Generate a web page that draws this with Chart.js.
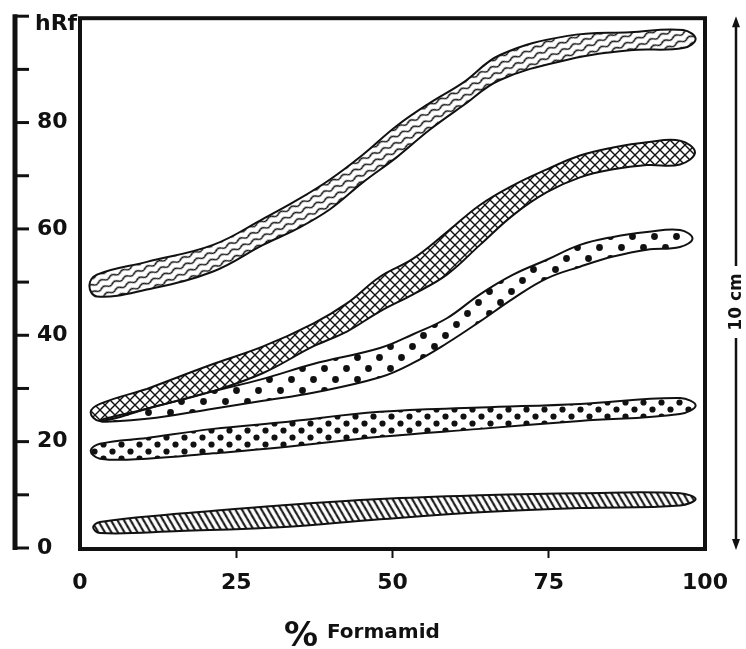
<!DOCTYPE html>
<html>
<head>
  <meta charset="utf-8" />
  <title>hRf / % Formamid</title>
  <style>
    body { margin: 0; background: #fff; }
    #wrap { width: 746px; height: 649px; }
  </style>
</head>
<body>
  <div id="wrap"><canvas id="chart" width="746" height="649"></canvas></div>

  <script src="https://cdn.jsdelivr.net/npm/chart.js@4/dist/chart.umd.min.js"></script>
  <script>
    // x = % Formamid, y = hRf. Each band: upper + lower edge sampled at xs, plus its two rounded tips.
    const xA  = [2.7, 10.7, 21.3, 29.3, 34.7, 40, 45.3, 50.7, 56, 61.3, 67.2, 78, 88, 96.5];
    const hiA = [51.4, 53.8, 57.0, 61.9, 65.4, 69.3, 74.0, 79.4, 83.7, 87.5, 92.7, 96.3, 97.0, 97.4];
    const loA = [47.3, 48.6, 52.0, 57.0, 60.0, 63.7, 68.8, 73.5, 78.7, 83.2, 88.0, 91.8, 93.6, 94.0];
    const tipsA = [[1.5, 49.3], [98.5, 95.7]];

    const xB  = [3.2, 10.7, 21.3, 29.3, 37.3, 42.7, 48, 53.3, 58.7, 64, 69.3, 74.7, 80, 85.3, 90.7, 96];
    const hiB = [27.1, 29.9, 34.6, 37.9, 42.2, 46.0, 51.0, 54.4, 59.4, 64.5, 68.2, 71.2, 73.8, 75.3, 76.3, 76.6];
    const loB = [23.9, 26.2, 29.5, 32.9, 37.9, 40.7, 44.5, 47.7, 51.4, 57.0, 62.6, 66.9, 69.7, 71.2, 72.0, 72.1];
    const tipsB = [[1.7, 25.5], [98.4, 74.4]];

    const xC  = [10.7, 21.3, 29.3, 37.3, 48, 53.3, 58.7, 64, 69.3, 74.7, 80, 85.3, 90.7, 96];
    const hiC = [26.2, 29.5, 31.8, 34.6, 37.6, 40.2, 43.2, 47.7, 51.4, 54.2, 57.0, 58.5, 59.4, 59.8];
    const loC = [24.3, 26.2, 27.7, 29.2, 32.1, 34.8, 38.5, 42.6, 46.9, 50.7, 52.9, 54.8, 56.1, 56.6];
    const tipsC = [[3.2, 23.9], [98.0, 58.2]];

    const xD  = [3.2, 10.7, 21.3, 32, 48, 64, 80, 96];
    const hiD = [19.6, 20.7, 22.4, 23.6, 25.6, 26.4, 27.1, 28.2];
    const loD = [16.8, 16.8, 17.8, 18.9, 20.9, 22.4, 23.9, 25.2];
    const tipsD = [[1.7, 18.3], [98.5, 26.8]];

    const xE  = [3.2, 16, 32, 48, 64, 80, 96];
    const hiE = [4.9, 6.5, 8.0, 9.2, 9.9, 10.3, 10.3];
    const loE = [2.8, 3.2, 3.9, 5.4, 6.7, 7.5, 8.0];
    const tipsE = [[2.1, 3.9], [98.5, 9.2]];

    const xTicks = [0, 25, 50, 75, 100];
    const yLabels = [0, 20, 40, 60, 80];
    const rulerTicks = [0, 10, 20, 30, 40, 50, 60, 70, 80, 90, 100];

    const ink = '#111';

    function makePattern(w, h, draw, angle) {
      const c = document.createElement('canvas');
      c.width = w; c.height = h;
      const g = c.getContext('2d');
      g.strokeStyle = ink; g.fillStyle = ink;
      draw(g);
      const p = c.getContext('2d').createPattern(c, 'repeat');
      if (angle) p.setTransform(new DOMMatrix().rotateSelf(angle));
      return p;
    }
    function dots(pts, r) {
      return g => pts.forEach(([x, y]) => { g.beginPath(); g.arc(x, y, r, 0, Math.PI * 2); g.fill(); });
    }

    const wavy = makePattern(24, 7, g => {
      g.lineWidth = 1.5;
      g.beginPath();
      for (let i = 0; i <= 24; i++) {
        const yy = 3.5 + 1.2 * Math.sin(i / 12 * Math.PI * 2);
        i ? g.lineTo(i, yy) : g.moveTo(i, yy);
      }
      g.stroke();
    }, -25);
    const cross = makePattern(10, 10, g => {
      g.lineWidth = 1.4;
      g.beginPath();
      g.moveTo(-1, -1); g.lineTo(11, 11);
      g.moveTo(11, -1); g.lineTo(-1, 11);
      g.stroke();
    });
    const sparseDots = makePattern(22, 22, dots([[5.5, 5.5], [16.5, 16.5]], 3.4));
    const denseDots = makePattern(18, 14, dots([[4.5, 3.5], [13.5, 10.5]], 3.1));
    const hatch = makePattern(8, 8, g => {
      g.lineWidth = 2;
      g.beginPath();
      g.moveTo(-1, -1); g.lineTo(9, 9);
      g.moveTo(-9, -1); g.lineTo(1, 9);
      g.moveTo(7, -1); g.lineTo(17, 9);
      g.stroke();
    }, 15);

    // closed outline: upper edge left->right, right tip, lower edge right->left, left tip, back to start
    function band(xs, hi, lo, tips, pattern) {
      const up = xs.map((x, i) => ({ x: x, y: hi[i] }));
      const dn = xs.map((x, i) => ({ x: x, y: lo[i] })).reverse();
      const L = { x: tips[0][0], y: tips[0][1] }, R = { x: tips[1][0], y: tips[1][1] };
      const outline = up.slice(1).concat([R], dn, [L], up.slice(0, 2));
      return {
        data: outline, fill: 'shape', backgroundColor: pattern,
        borderColor: ink, borderWidth: 2, pointRadius: 0, tension: 0.4,
        borderJoinStyle: 'round'
      };
    }

    const decor = {
      id: 'decor',
      beforeDraw(chart) {
        const ctx = chart.ctx;
        ctx.save();
        ctx.fillStyle = '#fff';
        ctx.fillRect(0, 0, chart.width, chart.height);
        ctx.restore();
      },
      afterDraw(chart) {
        const { ctx, chartArea: a, scales: { y } } = chart;
        const line = (x1, y1, x2, y2) => { ctx.beginPath(); ctx.moveTo(x1, y1); ctx.lineTo(x2, y2); ctx.stroke(); };
        ctx.save();
        ctx.strokeStyle = ink; ctx.fillStyle = ink;

        // plot frame
        ctx.lineWidth = 4;
        ctx.strokeRect(a.left, a.top + 2, a.right - a.left, a.bottom - a.top - 1);

        // left hRf ruler
        const rx = 15;
        ctx.lineWidth = 5;
        line(rx, y.getPixelForValue(100) - 2, rx, y.getPixelForValue(0) + 2);
        ctx.lineWidth = 3;
        rulerTicks.forEach(v => {
          const py = y.getPixelForValue(v);
          line(rx, py, rx + 14, py);
        });
        ctx.font = 'bold 22px "DejaVu Sans"';
        ctx.textAlign = 'left';
        ctx.textBaseline = 'middle';
        ctx.fillText('hRf', 35, y.getPixelForValue(100) + 8);

        // right 10 cm ruler
        const qx = 736, top = y.getPixelForValue(100) + 2, bot = y.getPixelForValue(0);
        const mid = 302;
        ctx.lineWidth = 2.5;
        line(qx, top + 4, qx, mid - 36);
        line(qx, mid + 36, qx, bot - 4);
        ctx.beginPath();
        ctx.moveTo(qx, top - 2); ctx.lineTo(qx - 4, top + 9); ctx.lineTo(qx + 4, top + 9); ctx.closePath(); ctx.fill();
        ctx.beginPath();
        ctx.moveTo(qx, bot + 2); ctx.lineTo(qx - 4, bot - 9); ctx.lineTo(qx + 4, bot - 9); ctx.closePath(); ctx.fill();
        ctx.save();
        ctx.translate(qx + 1, mid);
        ctx.rotate(-Math.PI / 2);
        ctx.font = 'bold 17px "DejaVu Sans"';
        ctx.textAlign = 'center';
        ctx.fillText('10 cm', 0, 0);
        ctx.restore();

        // x axis title
        ctx.textAlign = 'left';
        ctx.textBaseline = 'alphabetic';
        ctx.font = 'bold 34px "DejaVu Sans"';
        ctx.fillText('%', 284, 646);
        ctx.font = 'bold 20px "DejaVu Sans"';
        ctx.fillText('Formamid', 327, 638);
        ctx.restore();
      }
    };

    new Chart(document.getElementById('chart'), {
      type: 'line',
      data: {
        datasets: [
          band(xA, hiA, loA, tipsA, wavy),
          band(xB, hiB, loB, tipsB, cross),
          band(xC, hiC, loC, tipsC, sparseDots),
          band(xD, hiD, loD, tipsD, denseDots),
          band(xE, hiE, loE, tipsE, hatch)
        ]
      },
      options: {
        responsive: false,
        animation: false,
        layout: { padding: { left: 37, right: 41, top: 13, bottom: 0 } },
        plugins: {
          legend: { display: false },
          tooltip: { enabled: false }
        },
        scales: {
          x: {
            type: 'linear', min: 0, max: 100,
            afterBuildTicks: s => { s.ticks = xTicks.map(v => ({ value: v })); },
            afterFit: s => { s.height = 101; },
            border: { display: false },
            grid: {
              drawOnChartArea: false, drawTicks: true, tickLength: 10, tickWidth: 2,
              tickColor: c => (c.tick && (c.tick.value === 0 || c.tick.value === 100)) ? 'rgba(0,0,0,0)' : ink
            },
            ticks: { color: ink, padding: 12, maxRotation: 0, font: { family: 'DejaVu Sans', size: 22, weight: 'bold' } }
          },
          y: {
            type: 'linear', min: 0, max: 100,
            afterBuildTicks: s => { s.ticks = yLabels.map(v => ({ value: v })); },
            afterFit: s => { s.width = 43; },
            border: { display: false },
            grid: { display: false },
            ticks: { color: ink, crossAlign: 'far', font: { family: 'DejaVu Sans', size: 22, weight: 'bold' } }
          }
        }
      },
      plugins: [decor]
    });
  </script>
</body>
</html>
